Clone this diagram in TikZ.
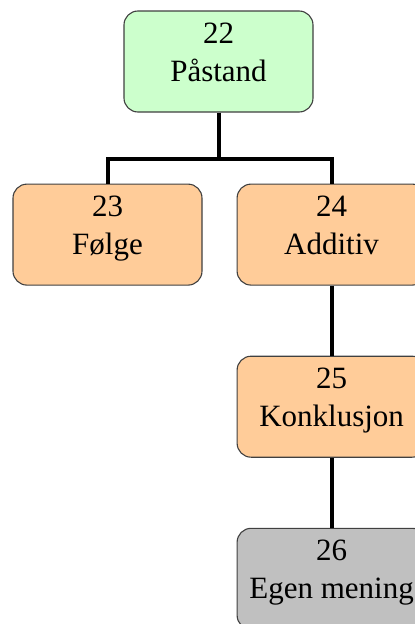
\documentclass[tikz,border=0pt]{standalone}
\usepackage{fontspec}
\setmainfont{Liberation Serif}
\usetikzlibrary{positioning}

\definecolor{claimgreen}{HTML}{CCFFCC}
\definecolor{relorange}{HTML}{FFCC99}
\definecolor{opiniongray}{HTML}{C0C0C0}

\begin{document}
\begin{tikzpicture}[node distance=70pt,
  font=\fontsize{31}{38}\selectfont,
  box/.style={draw=black!75,line width=1.1pt,rounded corners=14pt,align=center,
    minimum width=189pt,minimum height=101pt,inner sep=0pt,
    % fixed strut so every box sets its two lines at the same height
    execute at begin node=\rule{0pt}{25pt},
    execute at end node=\rule[-19pt]{0pt}{19pt}},
  link/.style={line width=4pt}]
  \useasboundingbox (0,0) rectangle (415pt,-624pt);
  \node[box, fill=claimgreen] (p22) at (218.5pt,-61.5pt) {22\\Påstand};
  \node[box, fill=relorange, below=71pt of p22, xshift=-111pt] (p23) {23\\Følge};
  \node[box, fill=relorange, right=34pt of p23] (p24) {24\\Additiv};
  \node[box, fill=relorange, below=of p24] (p25) {25\\Konklusjon};
  \node[box, fill=opiniongray, below=of p25] (p26) {26\\Egen mening};
  \draw[link] (p22.south) -- ++(0,-46pt) -| (p23.north);
  \draw[link] (p22.south) -- ++(0,-46pt) -| (p24.north);
  \draw[link] (p24) -- (p25);
  \draw[link] (p25) -- (p26);
\end{tikzpicture}
\end{document}
